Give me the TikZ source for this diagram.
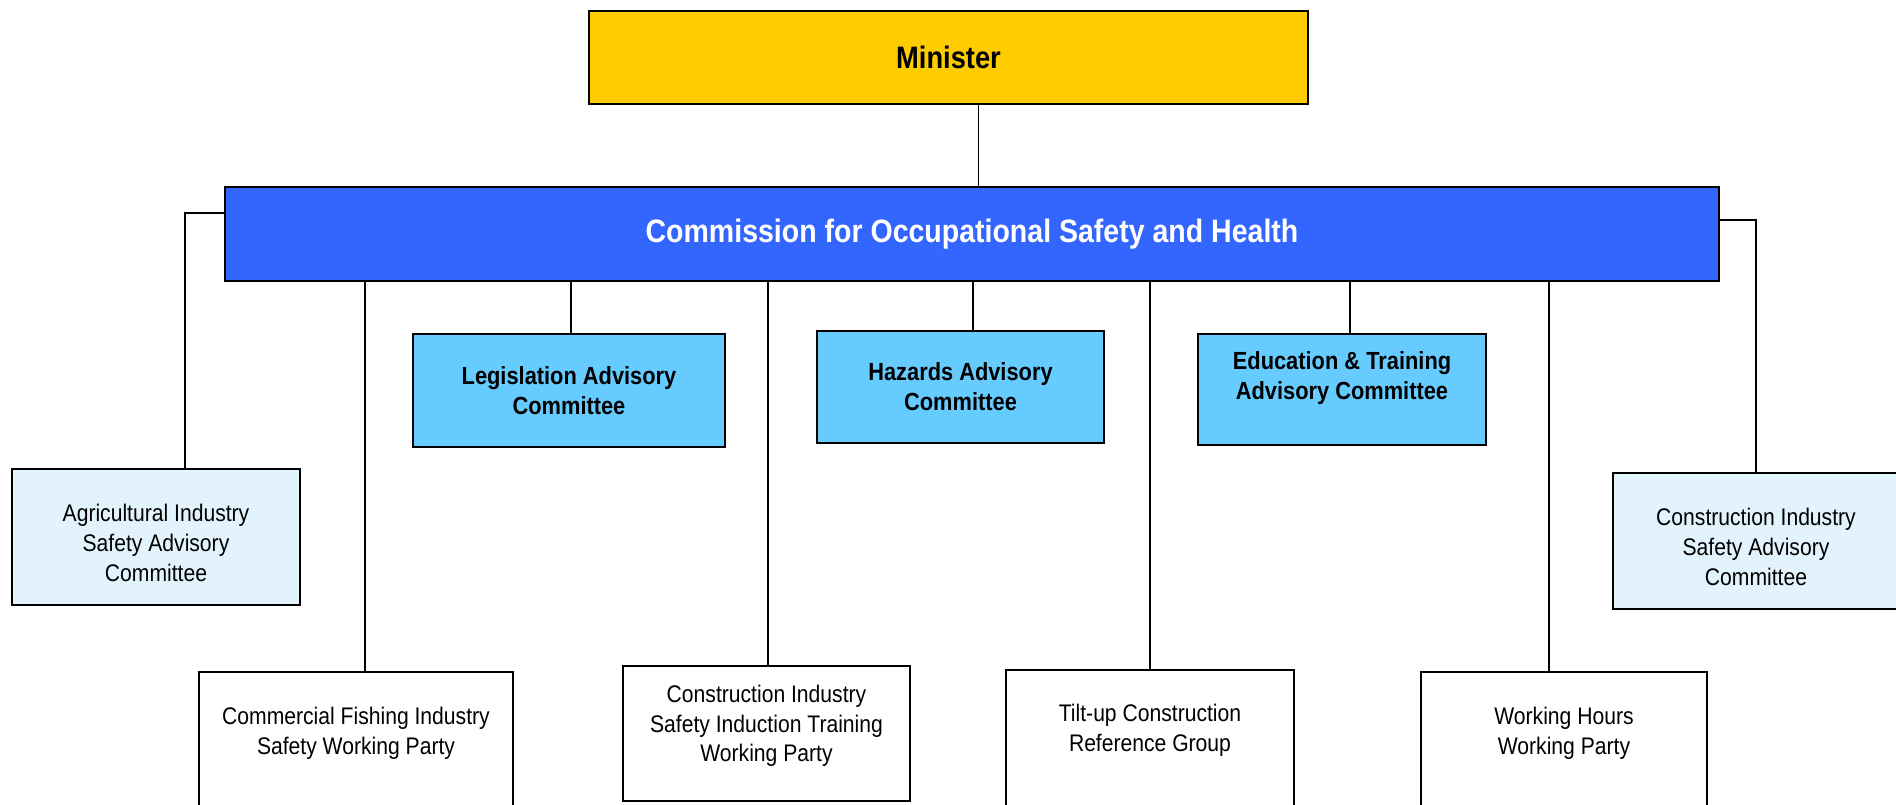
\documentclass[tikz,border=0pt]{standalone}
\usepackage{fontspec}
\setmainfont{Liberation Sans}[FakeStretch=0.88]
\usepackage{xcolor}
\definecolor{ministergold}{HTML}{FFCC00}
\definecolor{coshblue}{HTML}{3366FF}
\definecolor{advcyan}{HTML}{66CCFF}
\definecolor{indpale}{HTML}{E3F3FD}

\begin{document}
\begin{tikzpicture}[x=0.5pt, y=-0.5pt,
        box/.style={draw, line width=1pt, inner sep=0pt, align=center},
        topbox/.style={box, font=\fontsize{15.5}{18}\selectfont\bfseries},
        advbox/.style={box, fill=advcyan, font=\fontsize{12.4}{15}\selectfont\bfseries},
        indbox/.style={box, fill=indpale},
        partybox/.style={box, fill=white, anchor=north},
        plaintext/.style={align=center, inner sep=0pt, font=\fontsize{12}{14.8}\selectfont},
        link/.style={line width=0.8pt}]
        \useasboundingbox (0,0) rectangle (1896,804);

        % Minister and Commission
        \node[topbox, fill=ministergold, minimum width=359.5pt, minimum height=46.5pt] (minister) at (948.5,57.5) {Minister};
        \node[topbox, fill=coshblue, text=white, minimum width=747pt, minimum height=47pt, font=\fontsize{16.2}{18}\selectfont\bfseries] (cosh) at (972,234) {Commission for Occupational Safety and Health};

        % Industry advisory committees
        \node[indbox, minimum width=144pt, minimum height=68pt] (agri) at (156,537) {};
        \node[indbox, minimum width=143pt, minimum height=68pt] (cisac) at (1756,541) {};
        \node[plaintext] (agritext) at (156,543) {Agricultural Industry\\Safety Advisory\\Committee};
        \node[plaintext] (cisactext) at (1756,547) {Construction Industry\\Safety Advisory\\Committee};

        % Advisory committees
        \node[advbox, minimum width=156pt, minimum height=56.5pt] (legis) at (569,390.5) {Legislation Advisory\\Committee};
        \node[advbox, minimum width=143.5pt, minimum height=56pt] (hazards) at (960.5,387) {Hazards Advisory\\Committee};
        \node[advbox, minimum width=144pt, minimum height=55.5pt] (edu) at (1342,389.5) {};
        \node[plaintext, font=\fontsize{12.4}{15}\selectfont\bfseries] (edutext) at (1342,378) {Education \& Training\\Advisory Committee};

        % Working parties and groups
        \node[partybox, minimum width=157pt, minimum height=100pt] (fish) at (356,671) {};
        \node[partybox, minimum width=143.5pt, minimum height=67.5pt] (induct) at (766.5,665) {};
        \node[partybox, minimum width=144pt, minimum height=100pt] (tilt) at (1150,669) {};
        \node[partybox, minimum width=143pt, minimum height=100pt] (hours) at (1564,671) {};
        \node[plaintext] (fishtext) at (356,733) {Commercial Fishing Industry\\Safety Working Party};
        \node[plaintext] (inducttext) at (766.5,726) {Construction Industry\\Safety Induction Training\\Working Party};
        \node[plaintext] (tilttext) at (1150,730) {Tilt-up Construction\\Reference Group};
        \node[plaintext] (hourstext) at (1564,733) {Working Hours\\Working Party};

        % Connectors
        \draw[link] ([xshift=15pt]minister.south) -- ([xshift=15pt]minister.south |- cosh.north);
        \draw[link] ([yshift=10.5pt]cosh.west) -| ([xshift=14.5pt]agri.north);
        \draw[link] ([yshift=7pt]cosh.east) -| (cisac.north);
        \draw[link] ([xshift=4.5pt]fish.north) -- ([xshift=4.5pt]fish.north |- cosh.south);
        \draw[link] ([xshift=1pt]legis.north) -- ([xshift=1pt]legis.north |- cosh.south);
        \draw[link] ([xshift=0.75pt]induct.north) -- ([xshift=0.75pt]induct.north |- cosh.south);
        \draw[link] ([xshift=6.25pt]hazards.north) -- ([xshift=6.25pt]hazards.north |- cosh.south);
        \draw[link] (tilt.north) -- (tilt.north |- cosh.south);
        \draw[link] ([xshift=4pt]edu.north) -- ([xshift=4pt]edu.north |- cosh.south);
        \draw[link] ([xshift=-7.5pt]hours.north) -- ([xshift=-7.5pt]hours.north |- cosh.south);
    \end{tikzpicture}
\end{document}
